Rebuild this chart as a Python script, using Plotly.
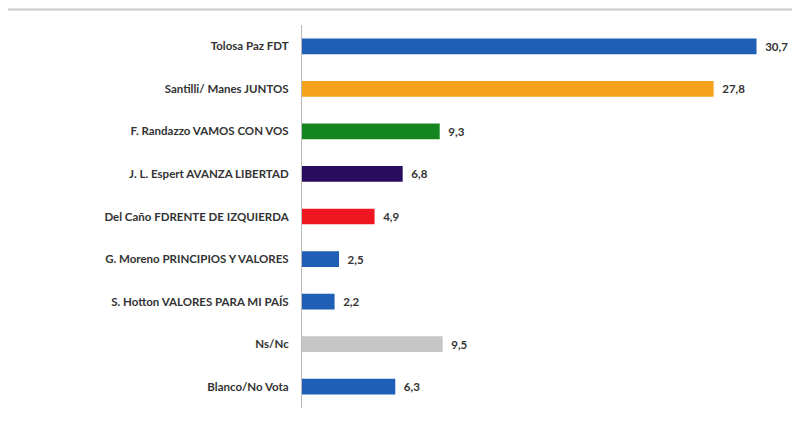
import plotly.graph_objects as go

categories = [
    'Tolosa Paz FDT',
    'Santilli/ Manes JUNTOS',
    'F. Randazzo VAMOS CON VOS',
    'J. L. Espert AVANZA LIBERTAD',
    'Del Caño FDRENTE DE IZQUIERDA',
    'G. Moreno PRINCIPIOS Y VALORES',
    'S. Hotton VALORES PARA MI PAÍS',
    'Ns/Nc',
    'Blanco/No Vota',
]
values = [30.7, 27.8, 9.3, 6.8, 4.9, 2.5, 2.2, 9.5, 6.3]
colors = ['#1F5FB5', '#F7A21B', '#15861F', '#2A0C5E', '#EE1620',
          '#1F5FB5', '#1F5FB5', '#C6C6C6', '#1F5FB5']

# valores con coma decimal, separados de la barra
labels = ['  ' + f'{v:.1f}'.replace('.', ',') for v in values]

fig = go.Figure(go.Bar(
    x=values, y=categories, orientation='h',
    marker=dict(color=colors, line=dict(width=0)),
    text=labels, textposition='outside', cliponaxis=False,
    textfont=dict(family='Lato', size=11.5, color='#333333', weight='bold'),
    width=0.37,
))

fig.update_layout(
    width=800, height=445,
    margin=dict(l=294, r=10, t=17, b=45),
    paper_bgcolor='white', plot_bgcolor='white',
    showlegend=False,
    font=dict(family='Lato', size=11.5, color='#333333'),
    xaxis=dict(range=[0, 33.5], visible=False, fixedrange=True),
    yaxis=dict(autorange='reversed', showline=True, linecolor='#B8B8B8', linewidth=1,
               ticks='', showgrid=False, ticklabelstandoff=10,
               tickfont=dict(family='Lato', size=11.5, color='#333333', weight='bold')),
    # línea gris del borde superior
    shapes=[dict(type='line', xref='paper', yref='paper',
                 x0=-0.7, x1=1.1, y0=1 + 15.5 / 383, y1=1 + 15.5 / 383,
                 line=dict(color='#CCCCCC', width=2))],
)

fig.write_html('out.html')
